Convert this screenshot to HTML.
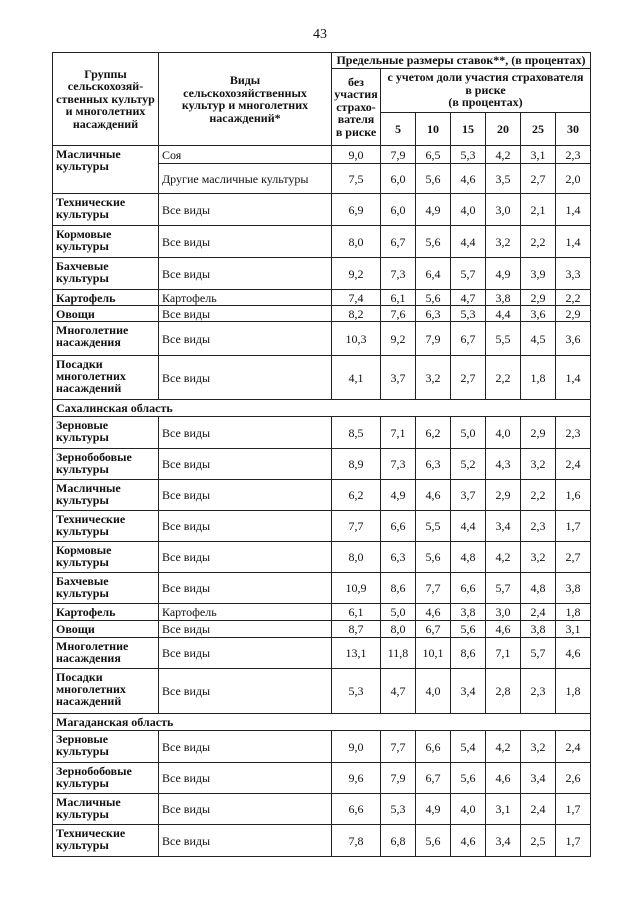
<!DOCTYPE html>
<html><head><meta charset="utf-8"><style>
body{margin:0;background:#fff;width:640px;height:905px;position:relative;font-family:"Liberation Serif",serif;color:#111}
.pn{position:absolute;top:27px;left:0;width:640px;text-align:center;font-size:14px}
table{position:absolute;left:52px;top:52px;border-collapse:collapse;table-layout:fixed;font-size:12px;line-height:12px}
td{border:1px solid #222;padding:0 3px;vertical-align:middle}
th{border:1px solid #222;font-weight:bold;font-size:12px;line-height:12.5px;padding:0 1px}
td.g{font-weight:bold;vertical-align:top;padding-top:2px}
td.n{text-align:center;padding:0}
td.r{font-weight:bold;}
</style></head><body>
<div class="pn">43</div>
<table>
<colgroup><col style="width:106px"><col style="width:173px"><col style="width:49px"><col style="width:35px"><col style="width:35px"><col style="width:35px"><col style="width:35px"><col style="width:35px"><col style="width:35px"></colgroup>
<tr style="height:16px"><th rowspan="3">Группы сельскохозяй-ственных культур и многолетних насаждений</th><th rowspan="3">Виды<br>сельскохозяйственных культур и многолетних насаждений*</th><th colspan="7" style="white-space:nowrap">Предельные размеры ставок**, (в процентах)</th></tr>
<tr style="height:44px"><th rowspan="2">без участия страхо-вателя в риске</th><th colspan="6" style="white-space:nowrap;vertical-align:top;padding-top:2px">с учетом доли участия страхователя<br>в риске<br>(в процентах)</th></tr>
<tr style="height:33px"><th>5</th><th>10</th><th>15</th><th>20</th><th>25</th><th>30</th></tr>
<tr style="height:18px"><td class="g" rowspan="2">Масличные культуры</td><td>Соя</td><td class="n">9,0</td><td class="n">7,9</td><td class="n">6,5</td><td class="n">5,3</td><td class="n">4,2</td><td class="n">3,1</td><td class="n">2,3</td></tr>
<tr style="height:30px"><td>Другие масличные культуры</td><td class="n">7,5</td><td class="n">6,0</td><td class="n">5,6</td><td class="n">4,6</td><td class="n">3,5</td><td class="n">2,7</td><td class="n">2,0</td></tr>
<tr style="height:32px"><td class="g">Технические культуры</td><td>Все виды</td><td class="n">6,9</td><td class="n">6,0</td><td class="n">4,9</td><td class="n">4,0</td><td class="n">3,0</td><td class="n">2,1</td><td class="n">1,4</td></tr>
<tr style="height:32px"><td class="g">Кормовые культуры</td><td>Все виды</td><td class="n">8,0</td><td class="n">6,7</td><td class="n">5,6</td><td class="n">4,4</td><td class="n">3,2</td><td class="n">2,2</td><td class="n">1,4</td></tr>
<tr style="height:32px"><td class="g">Бахчевые культуры</td><td>Все виды</td><td class="n">9,2</td><td class="n">7,3</td><td class="n">6,4</td><td class="n">5,7</td><td class="n">4,9</td><td class="n">3,9</td><td class="n">3,3</td></tr>
<tr style="height:16px"><td class="g">Картофель</td><td>Картофель</td><td class="n">7,4</td><td class="n">6,1</td><td class="n">5,6</td><td class="n">4,7</td><td class="n">3,8</td><td class="n">2,9</td><td class="n">2,2</td></tr>
<tr style="height:16px"><td class="g">Овощи</td><td>Все виды</td><td class="n">8,2</td><td class="n">7,6</td><td class="n">6,3</td><td class="n">5,3</td><td class="n">4,4</td><td class="n">3,6</td><td class="n">2,9</td></tr>
<tr style="height:34px"><td class="g">Многолетние насаждения</td><td>Все виды</td><td class="n">10,3</td><td class="n">9,2</td><td class="n">7,9</td><td class="n">6,7</td><td class="n">5,5</td><td class="n">4,5</td><td class="n">3,6</td></tr>
<tr style="height:44px"><td class="g">Посадки многолетних насаждений</td><td>Все виды</td><td class="n">4,1</td><td class="n">3,7</td><td class="n">3,2</td><td class="n">2,7</td><td class="n">2,2</td><td class="n">1,8</td><td class="n">1,4</td></tr>
<tr style="height:17px"><td class="r" colspan="9">Сахалинская область</td></tr>
<tr style="height:32px"><td class="g">Зерновые культуры</td><td>Все виды</td><td class="n">8,5</td><td class="n">7,1</td><td class="n">6,2</td><td class="n">5,0</td><td class="n">4,0</td><td class="n">2,9</td><td class="n">2,3</td></tr>
<tr style="height:31px"><td class="g">Зернобобовые культуры</td><td>Все виды</td><td class="n">8,9</td><td class="n">7,3</td><td class="n">6,3</td><td class="n">5,2</td><td class="n">4,3</td><td class="n">3,2</td><td class="n">2,4</td></tr>
<tr style="height:31px"><td class="g">Масличные культуры</td><td>Все виды</td><td class="n">6,2</td><td class="n">4,9</td><td class="n">4,6</td><td class="n">3,7</td><td class="n">2,9</td><td class="n">2,2</td><td class="n">1,6</td></tr>
<tr style="height:31px"><td class="g">Технические культуры</td><td>Все виды</td><td class="n">7,7</td><td class="n">6,6</td><td class="n">5,5</td><td class="n">4,4</td><td class="n">3,4</td><td class="n">2,3</td><td class="n">1,7</td></tr>
<tr style="height:31px"><td class="g">Кормовые культуры</td><td>Все виды</td><td class="n">8,0</td><td class="n">6,3</td><td class="n">5,6</td><td class="n">4,8</td><td class="n">4,2</td><td class="n">3,2</td><td class="n">2,7</td></tr>
<tr style="height:31px"><td class="g">Бахчевые культуры</td><td>Все виды</td><td class="n">10,9</td><td class="n">8,6</td><td class="n">7,7</td><td class="n">6,6</td><td class="n">5,7</td><td class="n">4,8</td><td class="n">3,8</td></tr>
<tr style="height:17px"><td class="g">Картофель</td><td>Картофель</td><td class="n">6,1</td><td class="n">5,0</td><td class="n">4,6</td><td class="n">3,8</td><td class="n">3,0</td><td class="n">2,4</td><td class="n">1,8</td></tr>
<tr style="height:17px"><td class="g">Овощи</td><td>Все виды</td><td class="n">8,7</td><td class="n">8,0</td><td class="n">6,7</td><td class="n">5,6</td><td class="n">4,6</td><td class="n">3,8</td><td class="n">3,1</td></tr>
<tr style="height:31px"><td class="g">Многолетние насаждения</td><td>Все виды</td><td class="n">13,1</td><td class="n">11,8</td><td class="n">10,1</td><td class="n">8,6</td><td class="n">7,1</td><td class="n">5,7</td><td class="n">4,6</td></tr>
<tr style="height:45px"><td class="g">Посадки многолетних насаждений</td><td>Все виды</td><td class="n">5,3</td><td class="n">4,7</td><td class="n">4,0</td><td class="n">3,4</td><td class="n">2,8</td><td class="n">2,3</td><td class="n">1,8</td></tr>
<tr style="height:17px"><td class="r" colspan="9">Магаданская область</td></tr>
<tr style="height:32px"><td class="g">Зерновые культуры</td><td>Все виды</td><td class="n">9,0</td><td class="n">7,7</td><td class="n">6,6</td><td class="n">5,4</td><td class="n">4,2</td><td class="n">3,2</td><td class="n">2,4</td></tr>
<tr style="height:31px"><td class="g">Зернобобовые культуры</td><td>Все виды</td><td class="n">9,6</td><td class="n">7,9</td><td class="n">6,7</td><td class="n">5,6</td><td class="n">4,6</td><td class="n">3,4</td><td class="n">2,6</td></tr>
<tr style="height:31px"><td class="g">Масличные культуры</td><td>Все виды</td><td class="n">6,6</td><td class="n">5,3</td><td class="n">4,9</td><td class="n">4,0</td><td class="n">3,1</td><td class="n">2,4</td><td class="n">1,7</td></tr>
<tr style="height:32px"><td class="g">Технические культуры</td><td>Все виды</td><td class="n">7,8</td><td class="n">6,8</td><td class="n">5,6</td><td class="n">4,6</td><td class="n">3,4</td><td class="n">2,5</td><td class="n">1,7</td></tr>
</table>
</body></html>
